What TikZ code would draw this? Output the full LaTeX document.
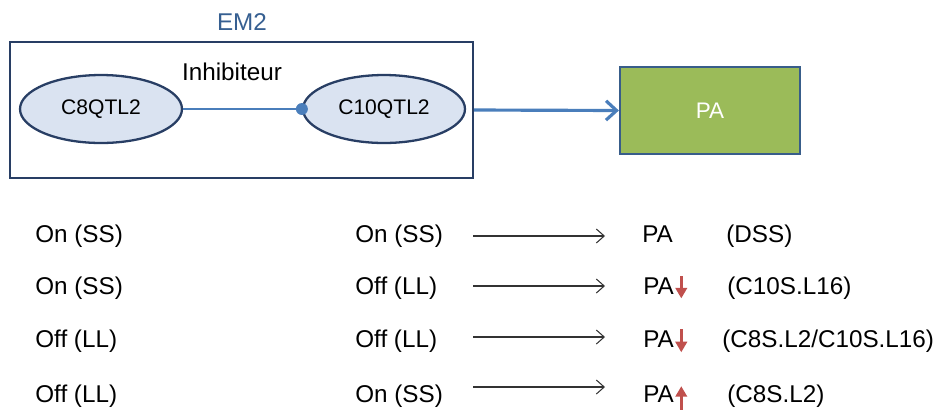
\documentclass[tikz,border=0pt]{standalone}
\usepackage{fontspec}
\setmainfont{Liberation Sans}
\usetikzlibrary{shapes.geometric,arrows.meta}
\definecolor{emblue}{RGB}{54,95,145}
\definecolor{boxnavy}{RGB}{40,62,100}
\definecolor{qtlfill}{RGB}{218,227,241}
\definecolor{linkblue}{RGB}{74,126,187}
\definecolor{pagreen}{RGB}{155,187,89}
\definecolor{paborder}{RGB}{56,93,138}
\definecolor{trendred}{RGB}{192,80,77}
\begin{document}
\begin{tikzpicture}[x=0.02cm,y=-0.02cm,
  txt/.style={anchor=base west,inner sep=0pt,font=\fontsize{13.8}{16}\selectfont},
  qtl/.style={ellipse,draw=boxnavy,line width=1.3pt,fill=qtlfill,minimum width=3.24cm,minimum height=1.36cm,font=\fontsize{12}{14}\selectfont},
  flow/.style={draw=black!80,line width=0.6pt,-{Straight Barb[length=4.5pt,width=8pt]}},
  trend/.style={draw=trendred,line width=1.8pt,-{Triangle[length=6pt,width=6.5pt]}}]
\useasboundingbox (0,0) rectangle (942,410);
% EM2 block with the two QTL
\node[draw=boxnavy,line width=1.4pt,minimum width=9.26cm,minimum height=2.72cm] (em) at (241.5,110) {};
\node[txt,anchor=base,text=emblue] (emlabel) at (242,30) {EM2};
\node[txt,anchor=base] (inhib) at (232,80) {Inhibiteur};
\node[qtl] (c8) at (101,109) {C8QTL2};
\node[qtl] (c10) at (384,109) {C10QTL2};
\draw[linkblue,line width=0.9pt] (c8.east) -- (c10.west);
\fill[linkblue] (c10.west) circle (3.4pt);
% Target PA
\node[fill=pagreen,draw=paborder,line width=1.3pt,minimum width=3.6cm,minimum height=1.74cm,text=white,font=\fontsize{12.8}{15}\selectfont] (pa) at (710,110.5) {PA};
\draw[linkblue,line width=1.8pt,-{Straight Barb[length=6pt,width=11pt]}] (em.east) -- (pa.west);
% Row 1
\node[txt] (a1) at (35,242) {On (SS)};
\node[txt] (b1) at (355,242) {On (SS)};
\node[txt] (p1) at (642,242) {PA};
\node[txt] (d1) at (726,242) {(DSS)};
\coordinate (s1) at (473,236);
\coordinate (e1) at (605,236);
\draw[flow] (s1) -- (e1);
% Row 2
\node[txt] (a2) at (35,294) {On (SS)};
\node[txt] (b2) at (355,294) {Off (LL)};
\node[txt] (p2) at (643,294) {PA};
\node[txt] (d2) at (727,294) {(C10S.L16)};
\coordinate (s2) at (473,286);
\coordinate (e2) at (605,286);
\draw[flow] (s2) -- (e2);
\draw[trend] ([shift={(4pt,10pt)}]p2.base east) -- ([shift={(4pt,-2.5pt)}]p2.base east);
% Row 3
\node[txt] (a3) at (35,347) {Off (LL)};
\node[txt] (b3) at (355,347) {Off (LL)};
\node[txt] (p3) at (643,347) {PA};
\node[txt] (d3) at (722,347) {(C8S.L2/C10S.L16)};
\coordinate (s3) at (473,337);
\coordinate (e3) at (605,337);
\draw[flow] (s3) -- (e3);
\draw[trend] ([shift={(4pt,10pt)}]p3.base east) -- ([shift={(4pt,-3pt)}]p3.base east);
% Row 4
\node[txt] (a4) at (35,402) {Off (LL)};
\node[txt] (b4) at (355,402) {On (SS)};
\node[txt] (p4) at (643,402) {PA};
\node[txt] (d4) at (727,402) {(C8S.L2)};
\coordinate (s4) at (473,387);
\coordinate (e4) at (605,387);
\draw[flow] (s4) -- (e4);
\draw[trend] ([shift={(4pt,-4.5pt)}]p4.base east) -- ([shift={(4pt,9pt)}]p4.base east);
\end{tikzpicture}
\end{document}
